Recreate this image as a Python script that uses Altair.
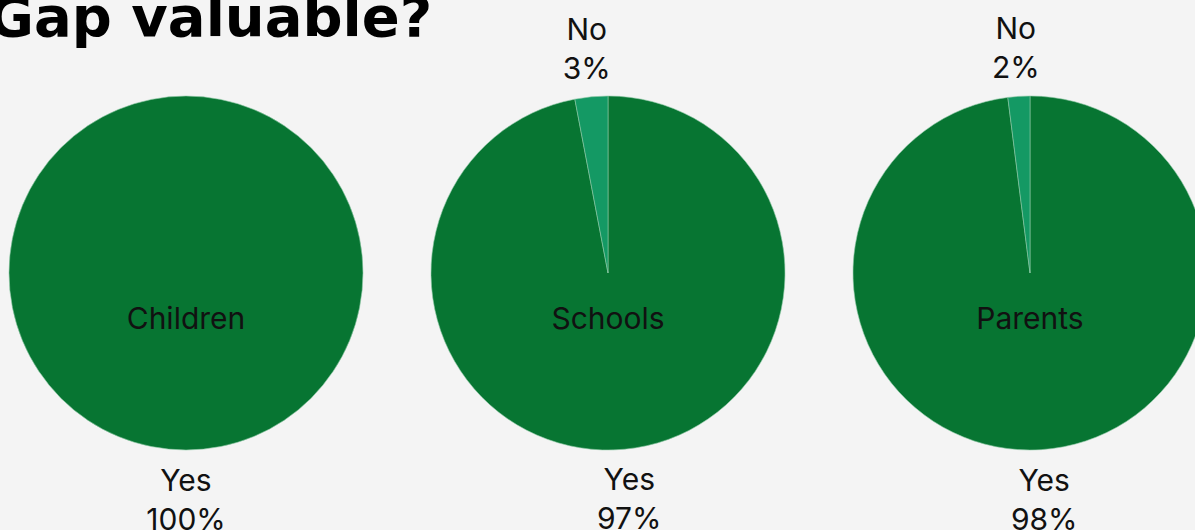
import altair as alt
import pandas as pd

groups = ["Children", "Schools", "Parents"]
answers = ["Yes", "No"]
yes_pct = [100, 97, 98]
no_pct = [0, 3, 2]
title_text = "Gap valuable?"

rows = []
for g, y, n in zip(groups, yes_pct, no_pct):
    rows.append({"group": g, "answer": "Yes", "order": 0, "value": y})
    rows.append({"group": g, "answer": "No", "order": 1, "value": n})
df = pd.DataFrame(rows)

BG = "#f4f4f4"
xscale = alt.Scale(domain=groups, range=[186, 1030], padding=0)
tscale = alt.Scale(domain=[0, 100], range=[0, 6.283185307179586])
cscale = alt.Scale(domain=answers, range=["#077532", "#149964"])

base = alt.Chart(df).transform_window(
    cum="sum(value)", groupby=["group"], sort=[alt.SortField("order")]
).transform_calculate(
    start="datum.cum - datum.value",
    mid="datum.cum - datum.value / 2",
    label="datum.answer + '\\n' + datum.value + '%'",
)

pies = base.transform_filter("datum.value > 0").mark_arc(
    radius=177, stroke="#8fc9a6", strokeWidth=0.6
).encode(
    x=alt.X("group:N", scale=xscale, axis=None),
    y=alt.value(273),
    theta=alt.Theta("start:Q", scale=tscale),
    theta2="cum:Q",
    color=alt.Color("answer:N", scale=cscale, legend=None),
)

outer = base.transform_filter("datum.value > 0").mark_text(
    radius=226, lineBreak="\n", font="Inter", fontSize=30, lineHeight=39,
    color="#111111", baseline="middle", align="center", dy=-17
).encode(
    x=alt.X("group:N", scale=xscale, axis=None),
    y=alt.value(273),
    theta=alt.Theta("mid:Q", scale=tscale),
    text="label:N",
)

centers = alt.Chart(pd.DataFrame({"group": groups})).mark_text(
    font="Inter", fontSize=30, color="#111111", baseline="middle", align="center"
).encode(
    x=alt.X("group:N", scale=xscale, axis=None),
    y=alt.value(320),
    text="group:N",
)

title = alt.Chart(pd.DataFrame({"t": [title_text]})).mark_text(
    font="DejaVu Sans", fontWeight="bold", fontSize=56, color="#000000",
    align="left", baseline="alphabetic"
).encode(
    x=alt.value(-12), y=alt.value(36), text="t:N"
)

chart = alt.layer(pies, outer, centers, title).properties(
    width=1195, height=530, background=BG, padding=0,
    autosize=alt.AutoSizeParams(type="none")
).configure_view(stroke=None)

chart.save("out.html", embed_options={"renderer": "svg", "actions": False})
